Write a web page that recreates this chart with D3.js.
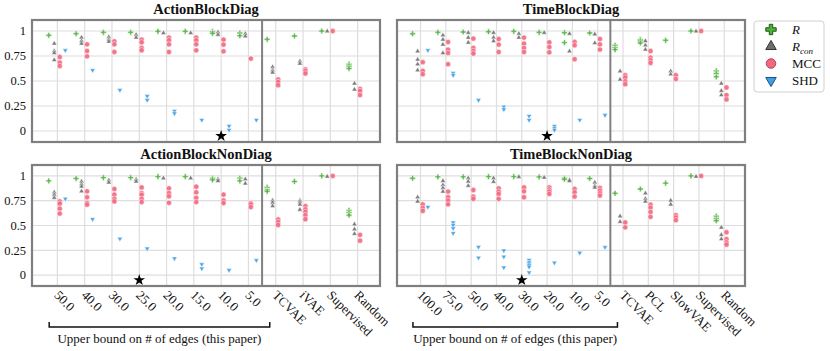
<!DOCTYPE html>
<html>
<head>
<meta charset="utf-8">
<script src="https://cdn.jsdelivr.net/npm/d3@7"></script>
<style>
  body { margin: 0; background: #fff; }
  text { font-family: 'Liberation Serif', 'Times New Roman', serif; }
</style>
</head>
<body>
<svg id="chart" width="830" height="351"></svg>
<script>
// categories
const actionCats = ["50.0", "40.0", "30.0", "25.0", "20.0", "15.0", "10.0", "5.0", "TCVAE", "iVAE", "Supervised", "Random"];
const timeCats = ["100.0", "75.0", "50.0", "40.0", "30.0", "20.0", "10.0", "5.0", "TCVAE", "PCL", "SlowVAE", "Supervised", "Random"];
const oursCount = 8; // the first 8 are "this paper"
const yTicks = [0, 0.25, 0.5, 0.75, 1];

// ActionBlockDiag
const abdR = [[0.957], [0.973], [0.987], [0.987], [0.997], [0.997], [0.993, 0.977], [0.98, 0.953], [0.917], [0.95], [1.0], [0.668, 0.648, 0.625]];
const abdRcon = [[0.874, 0.80, 0.78, 0.71], [0.934, 0.90, 0.874], [0.94, 0.914, 0.894], [0.963, 0.934], [0.98], [0.98], [0.987, 0.963], [0.973, 0.947], [0.64, 0.608, 0.585], [0.698, 0.674], [0.997], [0.475, 0.415]];
const abdMCC = [[0.74, 0.684, 0.65], [0.867, 0.80, 0.747], [0.897, 0.867, 0.79], [0.914, 0.887, 0.83, 0.807], [0.934, 0.907, 0.867, 0.79], [0.934, 0.907, 0.867, 0.807], [0.914, 0.864, 0.797], [0.724], [0.515, 0.49, 0.458], [0.615, 0.598, 0.575], [1.0], [0.42, 0.40, 0.36]];
const abdSHD = [[0.807], [0.608], [0.409], [0.349, 0.309], [0.2, 0.176], [0.11], [0.05, 0.01], [0.11], [], [], [], []];

// TimeBlockDiag
const tbdR = [[0.973], [0.987], [0.99], [0.993], [0.997], [0.987], [0.983, 0.884], [0.98], [0.857, 0.834, 0.814], [0.914, 0.90, 0.88], [0.907], [1.0], [0.601, 0.575, 0.542]];
const tbdRcon = [[0.797, 0.714, 0.668, 0.608], [0.957, 0.914, 0.864, 0.78], [0.983, 0.934, 0.884], [0.983, 0.934, 0.90], [0.973, 0.934], [0.983], [0.973, 0.797], [0.967, 0.88], [0.598, 0.515], [0.90, 0.857, 0.814], [0.598, 0.568], [0.997], [0.475, 0.402, 0.359]];
const tbdMCC = [[0.688, 0.601, 0.568], [0.89, 0.814, 0.78, 0.668], [0.924, 0.83, 0.80, 0.774], [0.92, 0.864, 0.79], [0.934, 0.874, 0.83, 0.79], [0.887, 0.84, 0.787], [0.89, 0.857, 0.718], [0.92, 0.867, 0.814], [0.558, 0.535, 0.498, 0.468], [0.80, 0.734, 0.708, 0.681], [0.558, 0.52], [1.0], [0.435, 0.359, 0.316]];
const tbdSHD = [[0.807], [0.581, 0.558], [0.309], [0.243, 0.216], [0.15, 0.11], [0.05, 0.027, 0.01], [0.11], [0.159], [], [], [], [], []];

// ActionBlockNonDiag
const abnR = [[0.95], [0.974], [0.983], [0.983], [0.993], [0.993], [0.977, 0.96], [0.977, 0.95], [0.884, 0.861, 0.845], [0.944], [1.0], [0.653, 0.63, 0.604]];
const abnRcon = [[0.835, 0.81, 0.78], [0.944, 0.917, 0.894, 0.845], [0.957, 0.934], [0.964, 0.944], [0.977], [0.977], [0.967, 0.95], [0.967, 0.924], [0.752, 0.729, 0.696], [0.752, 0.736, 0.713, 0.66], [0.993], [0.512, 0.462, 0.416]];
const abnMCC = [[0.743, 0.72, 0.67, 0.62], [0.845, 0.785, 0.729, 0.71], [0.868, 0.812, 0.769, 0.743], [0.884, 0.825, 0.809, 0.769, 0.736], [0.875, 0.828, 0.795, 0.729], [0.891, 0.835, 0.779, 0.736], [0.812, 0.752, 0.726], [0.726, 0.713, 0.686], [0.561, 0.535, 0.505], [0.696, 0.663, 0.637, 0.604, 0.564], [1.0], [0.406, 0.347]];
const abnSHD = [[0.769], [0.564], [0.366], [0.267], [0.168], [0.109, 0.066], [0.05], [0.149], [], [], [], []];

// TimeBlockNonDiag
const tbnR = [[0.977], [0.99], [0.99], [0.993], [0.993], [0.99], [0.977, 0.967], [0.974], [0.825], [0.868], [0.927], [1.0], [0.594, 0.571, 0.548]];
const tbnRcon = [[0.785, 0.743], [0.95, 0.908, 0.878, 0.842], [0.977, 0.944, 0.901], [0.977, 0.941], [0.99], [0.983], [0.96, 0.95], [0.934, 0.901, 0.884], [0.594, 0.538], [0.825, 0.769, 0.743], [0.752, 0.713], [0.993], [0.479, 0.406, 0.363]];
const tbnMCC = [[0.713, 0.677, 0.647], [0.842, 0.785, 0.752, 0.713], [0.858, 0.792, 0.769], [0.875, 0.842, 0.818, 0.769], [0.884, 0.845, 0.785], [0.884, 0.861, 0.842, 0.818], [0.868, 0.835, 0.792], [0.878, 0.851, 0.825, 0.802], [0.531, 0.482], [0.71, 0.68, 0.637, 0.587], [0.604, 0.581, 0.554], [1.0], [0.432, 0.363, 0.33, 0.307]];
const tbnSHD = [[0.686], [0.531, 0.505, 0.472, 0.422], [0.284, 0.175], [0.248, 0.185, 0.076], [0.152, 0.132, 0.116, 0.099, 0.083, 0.026], [0.125], [0.224], [0.281], [], [], [], [], []];

// true number of edges (star), drawn just below zero
const starValue = -0.05;

const metrics = [
  { key: "R", label: "R", sub: null, fill: "#4db03a", stroke: "#1f5a16", offset: -0.315, sym: d3.symbolCross, size: 18, rot: 0, lsize: 60 },
  { key: "Rcon", label: "R", sub: "con", fill: "#6e6e6e", stroke: "#333", offset: -0.115, sym: d3.symbolTriangle, size: 12, rot: 0, lsize: 48 },
  { key: "MCC", label: "MCC", sub: null, fill: "#f2687f", stroke: "#b0445a", offset: 0.087, sym: d3.symbolCircle, size: 22, rot: 0, lsize: 72 },
  { key: "SHD", label: "SHD", sub: null, fill: "#3d9fe6", stroke: "#1a4f80", offset: 0.29, sym: d3.symbolTriangle, size: 12, rot: 180, lsize: 48 }
];

const panels = [
  { title: "ActionBlockDiag", cats: actionCats, R: abdR, Rcon: abdRcon, MCC: abdMCC, SHD: abdSHD, star: "10.0", x0: 32, x1: 380, y0: 20, y1: 142, yLabels: true, xLabels: false },
  { title: "TimeBlockDiag", cats: timeCats, R: tbdR, Rcon: tbdRcon, MCC: tbdMCC, SHD: tbdSHD, star: "20.0", x0: 397, x1: 745, y0: 20, y1: 142, yLabels: false, xLabels: false },
  { title: "ActionBlockNonDiag", cats: actionCats, R: abnR, Rcon: abnRcon, MCC: abnMCC, SHD: abnSHD, star: "25.0", x0: 32, x1: 380, y0: 165, y1: 286, yLabels: true, xLabels: true },
  { title: "TimeBlockNonDiag", cats: timeCats, R: tbnR, Rcon: tbnRcon, MCC: tbnMCC, SHD: tbnSHD, star: "30.0", x0: 397, x1: 745, y0: 165, y1: 286, yLabels: false, xLabels: true }
];

const svg = d3.select("#chart");

panels.forEach(p => {
  const n = p.cats.length;
  // index scale, like an xlim of (-0.93, n - 0.18)
  const xi = d3.scaleLinear().domain([-0.93, n - 1 + 0.82]).range([p.x0, p.x1]);
  const step = xi(1) - xi(0);
  const x = c => xi(p.cats.indexOf(c));
  const y = d3.scaleLinear().domain([-0.11, 1.11]).range([p.y1, p.y0]);

  const g = svg.append("g");

  // grid
  g.selectAll(".hgrid").data(yTicks).enter().append("line")
    .attr("x1", p.x0).attr("x2", p.x1)
    .attr("y1", d => y(d)).attr("y2", d => y(d))
    .attr("stroke", "#dedede").attr("stroke-width", 1.2);
  g.selectAll(".vgrid").data(p.cats).enter().append("line")
    .attr("x1", d => x(d)).attr("x2", d => x(d))
    .attr("y1", p.y0).attr("y2", p.y1)
    .attr("stroke", "#dedede").attr("stroke-width", 1.2);

  // divider between ours and baselines
  g.append("line")
    .attr("x1", xi(oursCount - 0.5)).attr("x2", xi(oursCount - 0.5))
    .attr("y1", p.y0).attr("y2", p.y1)
    .attr("stroke", "#808080").attr("stroke-width", 2);

  // markers (white edges, like seaborn)
  metrics.forEach(m => {
    const pts = [];
    p[m.key].forEach((vals, i) => vals.forEach(v => pts.push({ i: i, v: v })));
    g.selectAll(null).data(pts).enter().append("path")
      .attr("d", d3.symbol().type(m.sym).size(m.size))
      .attr("transform", d => `translate(${xi(d.i) + m.offset * step},${y(d.v)}) rotate(${m.rot})`)
      .attr("fill", m.fill).attr("fill-opacity", 0.9)
      .attr("stroke", "#fff").attr("stroke-width", 0.5);
  });

  // star
  g.append("path")
    .attr("d", d3.symbol().type(d3.symbolStar).size(42))
    .attr("transform", `translate(${x(p.star)},${y(starValue)})`)
    .attr("fill", "#000");

  // frame
  g.append("rect")
    .attr("x", p.x0).attr("y", p.y0)
    .attr("width", p.x1 - p.x0).attr("height", p.y1 - p.y0)
    .attr("fill", "none").attr("stroke", "#7f7f7f").attr("stroke-width", 2.2);

  // title
  g.append("text")
    .attr("x", (p.x0 + p.x1) / 2).attr("y", p.y0 - 6)
    .attr("text-anchor", "middle")
    .attr("font-weight", "bold").attr("font-size", 14.5)
    .attr("fill", "#111")
    .text(p.title);

  if (p.yLabels) {
    g.selectAll(".ylab").data(yTicks).enter().append("text")
      .attr("x", p.x0 - 6).attr("y", d => y(d)).attr("dy", "0.35em")
      .attr("text-anchor", "end").attr("font-size", 12.5).attr("fill", "#111")
      .text(d => d3.format("~g")(d));
  }

  if (p.xLabels) {
    g.selectAll(".xlab").data(p.cats).enter().append("text")
      .attr("transform", d => `translate(${x(d) - 4},${p.y1 + 10}) rotate(45)`)
      .attr("font-size", 13).attr("fill", "#111")
      .text(d => d);

    // bracket under "this paper" group
    const bx0 = xi(-0.3), bx1 = xi(oursCount - 0.22), by = p.y1 + 41;
    g.append("path")
      .attr("d", `M${bx0},${by - 5}V${by}H${bx1}V${by - 5}`)
      .attr("fill", "none").attr("stroke", "#111").attr("stroke-width", 1.5);
    g.append("text")
      .attr("x", (bx0 + bx1) / 2).attr("y", by + 16)
      .attr("text-anchor", "middle").attr("font-size", 13).attr("fill", "#111")
      .text("Upper bound on # of edges (this paper)");
  }
});

// legend
const lg = svg.append("g").attr("transform", "translate(754,21)");
lg.append("rect").attr("width", 70).attr("height", 71).attr("rx", 3)
  .attr("fill", "#fff").attr("stroke", "#d0d0d0").attr("stroke-width", 1);
metrics.forEach((m, i) => {
  const yy = 8.5 + i * 17;
  lg.append("path")
    .attr("d", d3.symbol().type(m.sym).size(m.lsize))
    .attr("transform", `translate(17,${yy}) rotate(${m.rot})`)
    .attr("fill", m.fill).attr("stroke", m.stroke).attr("stroke-width", 1);
  const t = lg.append("text").attr("x", 38).attr("y", yy).attr("dy", "0.35em")
    .attr("font-size", 13).attr("fill", "#111");
  if (m.key === "R" || m.key === "Rcon") {
    t.append("tspan").attr("font-style", "italic").text(m.label);
    if (m.sub) t.append("tspan").attr("font-style", "italic").attr("font-size", 9).attr("dy", "0.3em").text(m.sub);
  } else {
    t.text(m.label);
  }
});
</script>
</body>
</html>
